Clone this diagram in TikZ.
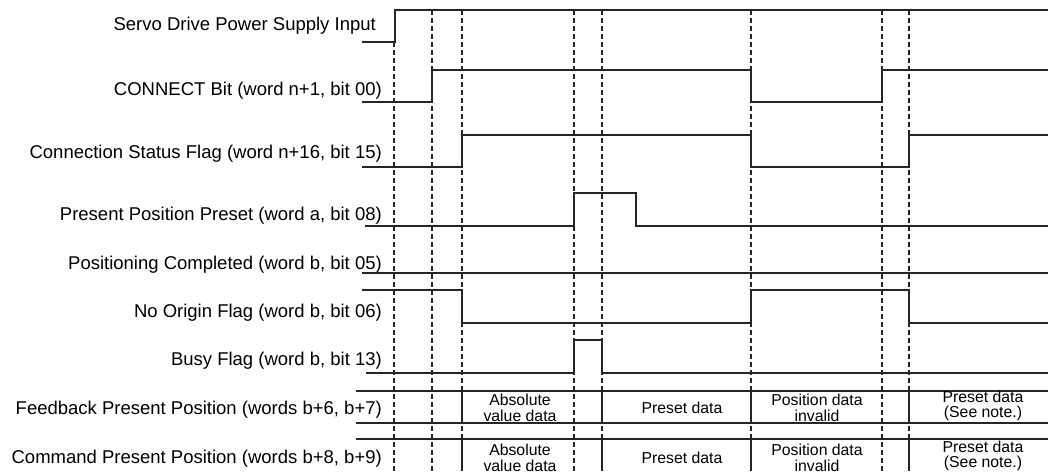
\documentclass[tikz,border=0pt]{standalone}
\usepackage{fontspec}
\setmainfont{Liberation Sans}
\usetikzlibrary{positioning}

\begin{document}
\begin{tikzpicture}[x=1pt,y=-1pt,
  sig/.style={draw=black!85,line width=1.3pt},
  guide/.style={draw=black!85,line width=2pt,dash pattern=on 5pt off 3pt},
  lbl/.style={anchor=base east,inner sep=0pt,font=\fontsize{18.5}{20}\selectfont},
  bustext/.style={align=center,inner sep=0pt,font=\fontsize{15.8}{15.5}\selectfont}
]
\useasboundingbox (0,0) rectangle (1048,471);
% signal names
\node[lbl] (pwr) at (376,30.7) {Servo Drive Power Supply Input};
\node[lbl] (con) at (382,95) {CONNECT Bit (word n+1, bit 00)};
\node[lbl] (sts) at (382,158) {Connection Status Flag (word n+16, bit 15)};
\node[lbl] (pre) at (382,220) {Present Position Preset (word a, bit 08)};
\node[lbl] (pcm) at (382,269) {Positioning Completed (word b, bit 05)};
\node[lbl] (org) at (382,317) {No Origin Flag (word b, bit 06)};
\node[lbl] (bsy) at (382,365) {Busy Flag (word b, bit 13)};
\node[lbl] (fbk) at (382,414) {Feedback Present Position (words b+6, b+7)};
\node[lbl] (cmd) at (382,463) {Command Present Position (words b+8, b+9)};
% waveforms
\draw[sig] (362,42) -- (395,42) |- (1048,10);
\draw[sig] (362,102) -- (432,102) |- (751,70) |- (882,102) |- (1048,70);
\draw[sig] (362,167) -- (462,167) |- (751,135) |- (909,167) |- (1048,135);
\draw[sig] (365,226) -- (574,226) |- (636,193) |- (1048,226);
\draw[sig] (362,273) -- (1048,273);
\draw[sig] (362,290) -- (462,290) |- (751,323) |- (909,290) |- (1048,323);
\draw[sig] (366,373) -- (574,373) |- (602,340) |- (1048,373);
% data words
\draw[sig] (356,391) -- (1048,391) (356,423) -- (1048,423) (356,439) -- (1048,439);
\foreach \t in {462,602,751,909}
  \draw[sig] (\t,391) -- (\t,423) (\t,439) -- (\t,471);
\node[bustext] (fabs) at (520,408) {Absolute\\value data};
\node[bustext] (fpre) at (682,407.5) {Preset data};
\node[bustext] (finv) at (817,408) {Position data\\invalid};
\node[bustext] (fnote) at (983,406) {Preset data\\(See note.)};
\node[bustext] (cabs) at (520,458) {Absolute\\value data};
\node[bustext] (cpre) at (682,457.5) {Preset data};
\node[bustext] (cinv) at (817,458) {Position data\\invalid};
\node[bustext] (cnote) at (983,456) {Preset data\\(See note.)};
% timing marks
\draw[guide] (394,42) -- (394,471);
\foreach \t in {432,462,574,602,751,882,909}
  \draw[guide] (\t,10) -- (\t,471);
\end{tikzpicture}
\end{document}
